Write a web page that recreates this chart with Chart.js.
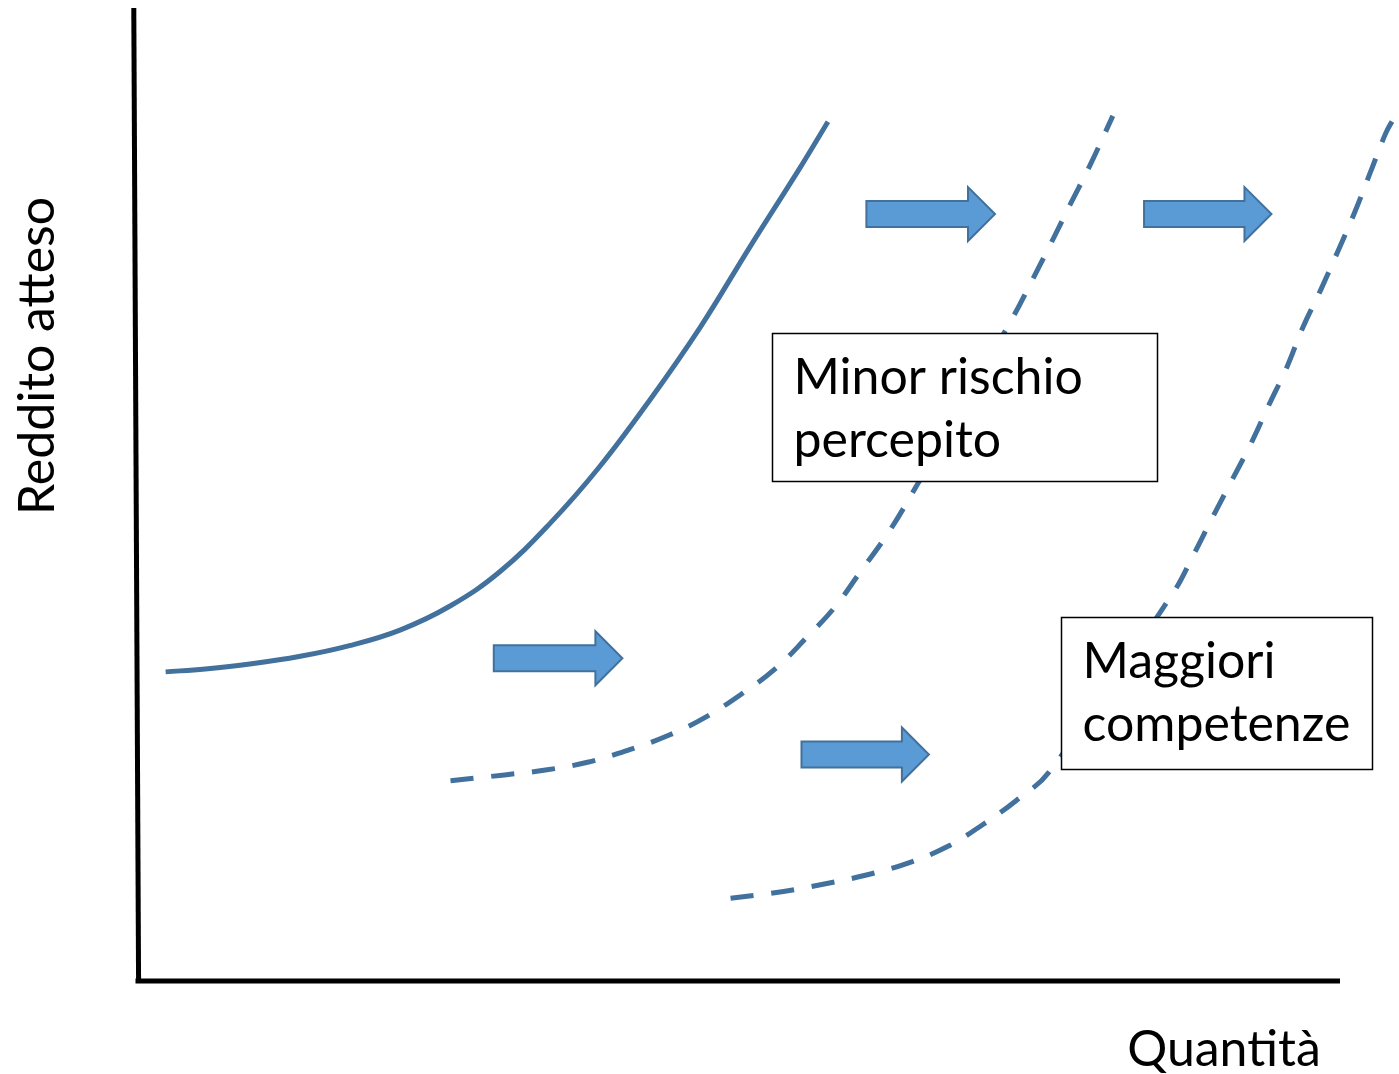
<!DOCTYPE html>
<html>
<head>
<meta charset="utf-8">
<title>Reddito atteso / Quantità</title>
<script src="https://cdn.jsdelivr.net/npm/chart.js@4.4.1/dist/chart.umd.min.js"></script>
<style>
  html, body { margin: 0; padding: 0; background: #fff; }
  canvas { display: block; }
</style>
</head>
<body>
<canvas id="chart" width="1399" height="1074"></canvas>
<script>
// Curve points (quantity 0-100, expected income 0-100)
const baseQty    = [2.3, 5.6, 9.3, 13.5, 17.6, 21.8, 26.0, 30.1, 34.3, 38.4, 42.6, 46.8, 50.9, 55.1, 57.4];
const baseIncome = [31.7, 32.0, 32.5, 33.3, 34.4, 36.0, 38.5, 42.0, 47.0, 52.8, 59.7, 67.2, 75.4, 83.6, 88.3];

const riskQty    = [26.0, 30.5, 33.9, 37.4, 40.9, 44.2, 47.3, 50.3, 53.1, 55.6, 58.0, 60.1, 62.2, 64.1, 72.8, 74.4, 76.0, 77.6, 79.2, 81.1];
const riskIncome = [20.5, 21.1, 21.6, 22.4, 23.7, 25.2, 27.1, 29.5, 32.1, 35.2, 38.4, 42.0, 45.6, 49.4, 68.2, 72.0, 75.9, 79.9, 83.8, 88.9];

const skillQty    = [49.3, 53.7, 57.2, 60.6, 64.0, 67.3, 70.3, 73.1, 75.8, 86.1, 87.8, 89.4, 91.0, 92.6, 94.1, 95.6, 96.9, 98.4, 99.8, 101.2, 102.5, 103.8, 104.4];
const skillIncome = [8.4, 9.1, 9.9, 10.8, 12.0, 13.7, 16.0, 18.5, 21.4, 39.8, 43.7, 47.6, 51.4, 55.2, 59.2, 63.1, 67.1, 71.0, 74.9, 78.9, 83.0, 87.1, 88.5];

const axisLabels = ['Quantità', 'Reddito atteso'];
const boxTexts = [['Minor rischio', 'percepito'], ['Maggiori', 'competenze']];

// shift arrows: from / to on the quantity axis, at a given income level
const arrowFrom = [60.6, 83.7, 29.6, 55.2];
const arrowTo   = [71.3, 94.3, 40.3, 65.8];
const arrowAt   = [78.8, 78.8, 33.1, 23.2];

// text boxes in data units: left, right, top, bottom
const boxLeft   = [52.75, 76.8];
const boxRight  = [84.8, 102.7];
const boxTop    = [66.6, 37.35];
const boxBottom = [51.3, 21.7];

const LINE = '#41719C';
const FONT = 'Lato, "Open Sans", sans-serif';

function toPoints(xs, ys) {
    return xs.map((v, i) => ({ x: v, y: ys[i] }));
}

function curve(label, xs, ys, dash) {
    return {
        label: label,
        data: toPoints(xs, ys),
        showLine: true,
        borderColor: LINE,
        borderWidth: 5,
        borderDash: dash,
        pointRadius: 0,
        tension: 0.4,
        clip: false,
        fill: false,
    };
}

function drawArrow(ctx, x0, x1, yc) {
    const body = 13, head = 27, headLen = 27;
    const xh = x1 - headLen;
    ctx.beginPath();
    ctx.moveTo(x0, yc - body);
    ctx.lineTo(xh, yc - body);
    ctx.lineTo(xh, yc - head);
    ctx.lineTo(x1, yc);
    ctx.lineTo(xh, yc + head);
    ctx.lineTo(xh, yc + body);
    ctx.lineTo(x0, yc + body);
    ctx.closePath();
    ctx.fillStyle = '#5B9BD5';
    ctx.fill();
    ctx.lineWidth = 2;
    ctx.strokeStyle = '#41719C';
    ctx.stroke();
}

// the two axes, drawn from the scales (the vertical one leans a little, as in the original)
const axes = {
    id: 'axes',
    beforeDatasetsDraw(chart) {
        const { ctx, scales: { x, y } } = chart;
        ctx.save();
        ctx.strokeStyle = '#000';
        ctx.lineWidth = 5;
        ctx.lineCap = 'butt';
        ctx.beginPath();
        ctx.moveTo(x.getPixelForValue(-0.35), y.getPixelForValue(100));
        ctx.lineTo(x.getPixelForValue(0.05), y.getPixelForValue(0) + 2.5);
        ctx.stroke();
        ctx.beginPath();
        ctx.moveTo(x.getPixelForValue(0) - 2.5, y.getPixelForValue(-0.1));
        ctx.lineTo(x.getPixelForValue(100), y.getPixelForValue(-0.1));
        ctx.stroke();
        ctx.restore();
    }
};

const overlay = {
    id: 'overlay',
    afterDatasetsDraw(chart) {
        const { ctx, scales: { x, y } } = chart;
        ctx.save();
        arrowFrom.forEach((f, i) => {
            drawArrow(ctx, x.getPixelForValue(f), x.getPixelForValue(arrowTo[i]), y.getPixelForValue(arrowAt[i]));
        });

        ctx.font = '50px ' + FONT;
        ctx.textBaseline = 'alphabetic';
        ctx.textAlign = 'left';
        boxLeft.forEach((l, i) => {
            const left = Math.round(x.getPixelForValue(l)) + 0.5;
            const right = Math.round(x.getPixelForValue(boxRight[i])) + 0.5;
            const top = Math.round(y.getPixelForValue(boxTop[i])) + 0.5;
            const bottom = Math.round(y.getPixelForValue(boxBottom[i])) + 0.5;
            ctx.fillStyle = '#fff';
            ctx.fillRect(left, top, right - left, bottom - top);
            ctx.lineWidth = 1.5;
            ctx.strokeStyle = '#000';
            ctx.strokeRect(left, top, right - left, bottom - top);
            ctx.fillStyle = '#000';
            boxTexts[i].forEach((t, j) => {
                ctx.fillText(t, left + 21, top + 60 + j * 63);
            });
        });

        // axis titles
        const x0 = x.getPixelForValue(0), y0 = y.getPixelForValue(0);
        ctx.fillStyle = '#000';
        ctx.textAlign = 'right';
        ctx.fillText(axisLabels[0], x.getPixelForValue(98.4), y0 + 86);
        ctx.translate(x0 - 84, y.getPixelForValue(64.2));
        ctx.rotate(-Math.PI / 2);
        ctx.textAlign = 'center';
        ctx.fillText(axisLabels[1], 0, 0);
        ctx.restore();
    }
};

new Chart(document.getElementById('chart'), {
    type: 'scatter',
    data: {
        datasets: [
            curve('Base', baseQty, baseIncome, []),
            curve('Minor rischio percepito', riskQty, riskIncome, [23, 18]),
            curve('Maggiori competenze', skillQty, skillIncome, [23, 18]),
        ]
    },
    options: {
        responsive: false,
        animation: false,
        devicePixelRatio: 1,
        layout: { padding: 0 },
        plugins: {
            legend: { display: false },
            tooltip: { enabled: false },
        },
        scales: {
            x: { type: 'linear', display: false, min: -11.48, max: 104.91 },
            y: { type: 'linear', display: false, min: -9.67, max: 100.82 }
        }
    },
    plugins: [axes, overlay]
});
</script>
</body>
</html>
